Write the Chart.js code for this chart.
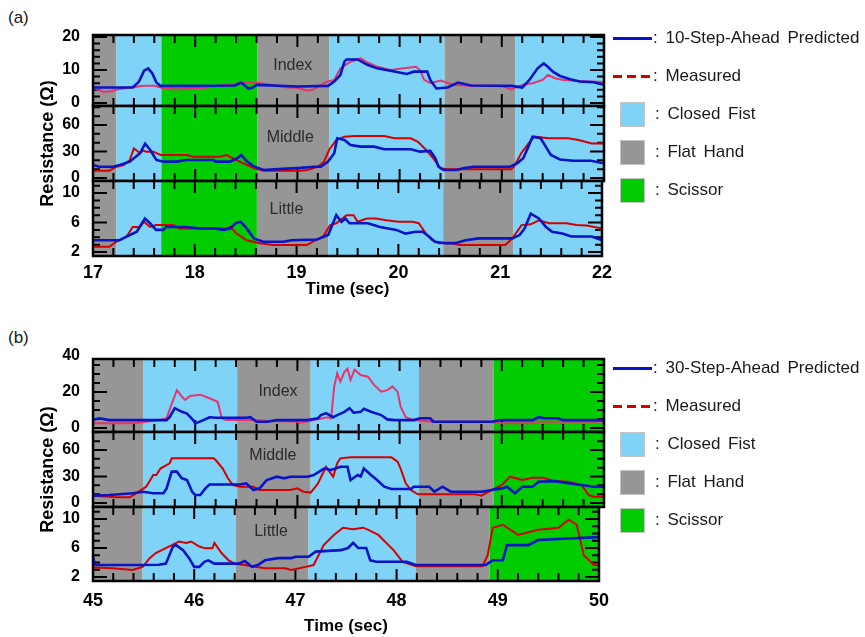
<!DOCTYPE html>
<html>
<head>
<meta charset="utf-8">
<script src="https://cdn.jsdelivr.net/npm/chart.js@4.4.0/dist/chart.umd.min.js"></script>
<style>
  body { margin: 0; width: 865px; height: 637px; background: #fff; position: relative; overflow: hidden;
         font-family: "Liberation Sans", Arial, sans-serif; color: #1a1a1a; }
  canvas { position: absolute; }
  .abs { position: absolute; white-space: nowrap; }
  .txt { font-size: 17px; line-height: 20px; word-spacing: 3px; }
</style>
</head>
<body>
<div class="abs" style="left:8px;top:8px;font-size:17px">(a)</div>
<div class="abs" style="left:8px;top:328px;font-size:17px">(b)</div>
<script>
// ---------- data : panel (a) 17-22 s ----------
const aXTicks = [17, 18, 19, 20, 21, 22];
const aBandEdges = [17, 17.23, 17.67, 18.61, 19.31, 20.44, 21.13, 22];
const aBandKinds = ['flat', 'fist', 'scissor', 'flat', 'fist', 'flat', 'fist'];

const aIndexPred = [[17,4.7],[17.39,4.7],[17.45,6.5],[17.5,9.8],[17.54,10.5],[17.58,9],[17.62,6.2],[17.66,5.2],[18.0,5.2],[18.39,5.3],[18.45,6.2],[18.49,5.2],[18.52,4.4],[18.56,4.6],[18.6,5.5],[19.0,5.0],[19.3,5.2],[19.36,6.5],[19.42,8.5],[19.46,12.5],[19.48,13.2],[19.59,13.2],[19.69,11.5],[19.78,10.5],[19.91,9.8],[20.07,8.8],[20.14,9.5],[20.27,9.5],[20.3,7],[20.36,4.4],[20.47,4.7],[20.57,6.2],[20.7,5.3],[21.1,5.2],[21.2,4.7],[21.27,7],[21.35,10.5],[21.41,12],[21.45,11],[21.5,9.5],[21.57,8.2],[21.67,7.2],[21.76,6.5],[21.9,6.3],[22,5.5]];
const aIndexMeas = [[17,4.7],[17.05,4.0],[17.1,3.4],[17.17,3.5],[17.25,4.2],[17.36,4.7],[17.5,5.2],[17.6,5.2],[17.7,4.4],[17.8,4.1],[17.9,4.3],[18.1,4.6],[18.3,5.5],[18.45,6.0],[18.55,6.3],[18.7,5.8],[18.9,4.7],[19.0,4.6],[19.1,3.7],[19.15,4.0],[19.23,5.5],[19.3,6.5],[19.36,7],[19.42,10.5],[19.52,12.5],[19.62,13.5],[19.69,12.2],[19.78,11],[19.91,10],[20.04,10.5],[20.16,11],[20.2,10],[20.24,7],[20.3,6],[20.4,6.8],[20.53,5.5],[20.66,5.2],[21.0,5.2],[21.09,4.1],[21.2,5.5],[21.3,6],[21.4,7],[21.45,8.5],[21.52,7.5],[21.6,7],[21.8,6.6],[22,6.4]];
const aMiddlePred = [[17,14.7],[17.06,12.8],[17.2,12.8],[17.26,14.7],[17.36,18.5],[17.46,28],[17.51,39],[17.56,31.7],[17.62,20.4],[17.69,18.5],[17.82,18.5],[17.92,20.4],[18.18,20.4],[18.2,18.5],[18.34,18.5],[18.41,22.3],[18.45,26],[18.51,18.5],[18.58,12.8],[18.67,9],[18.77,9.8],[19.03,11.5],[19.16,12.8],[19.23,12.8],[19.3,18.5],[19.36,28],[19.39,45],[19.46,43],[19.52,37.4],[19.62,35.5],[19.75,35.5],[19.85,32.5],[20.11,32.5],[20.2,29.8],[20.3,30.6],[20.35,22.3],[20.38,12.8],[20.43,9],[20.56,9],[20.62,11],[20.72,12.8],[21.08,12.8],[21.15,16.6],[21.21,22.3],[21.26,35.5],[21.3,46.8],[21.38,45],[21.43,35.5],[21.48,26],[21.57,21],[21.7,19.6],[21.87,19.6],[22,16.6]];
const aMiddleMeas = [[17,8.3],[17.16,8.3],[17.23,12.8],[17.3,14.7],[17.36,20.4],[17.4,33.6],[17.46,28],[17.49,31],[17.52,29.8],[17.59,29.8],[17.66,26],[17.92,26],[17.98,24],[18.24,24],[18.31,26],[18.37,22.3],[18.47,16.6],[18.58,11],[18.67,8.3],[19.03,8.3],[19.1,9],[19.2,12.8],[19.26,18.5],[19.31,31.7],[19.38,43],[19.46,46.8],[19.56,47.5],[19.85,47.5],[19.95,45],[20.11,45],[20.18,41],[20.26,31.7],[20.33,22.3],[20.4,11],[20.47,9.8],[21.09,9.8],[21.12,12.8],[21.19,28],[21.26,39],[21.32,46.8],[21.46,45],[21.65,45],[21.75,43],[21.88,39],[22,39]];
const aLittlePred = [[17,3.6],[17.26,3.6],[17.36,4.3],[17.43,4.75],[17.51,6.55],[17.56,5.9],[17.62,5],[17.69,5],[17.72,5.4],[17.92,5.4],[18.05,5.2],[18.2,5.2],[18.28,5],[18.35,5.2],[18.4,5.9],[18.45,6.1],[18.51,5.2],[18.58,3.85],[18.67,3.4],[18.87,3.4],[18.95,3.6],[19.2,3.7],[19.31,4.3],[19.39,7],[19.44,6.1],[19.48,6.55],[19.52,5.9],[19.7,5.9],[19.82,5.4],[19.98,5],[20.07,4.5],[20.17,4.75],[20.24,4.75],[20.3,4.1],[20.36,3.4],[20.47,3.2],[20.56,3.2],[20.66,3.6],[20.79,3.85],[21.12,3.85],[21.19,4.3],[21.24,5.2],[21.3,7.2],[21.38,6.55],[21.45,5.4],[21.51,4.75],[21.61,4.5],[21.7,4.1],[21.9,4.1],[22,3.6]];
const aLittleMeas = [[17,2.7],[17.16,2.7],[17.23,3.4],[17.33,4.1],[17.39,5.4],[17.46,5.4],[17.5,6.1],[17.56,5.4],[17.62,5.65],[17.79,5.65],[17.85,5.2],[18.31,5.2],[18.35,5.4],[18.41,4.5],[18.51,3.6],[18.64,3.2],[18.77,2.95],[19.1,2.95],[19.16,3.4],[19.26,4.1],[19.33,5.65],[19.39,5.9],[19.49,7],[19.56,7],[19.6,6.1],[19.69,6.55],[19.78,6.55],[19.88,6.3],[20.0,6.1],[20.14,6.1],[20.2,5.9],[20.27,4.5],[20.33,3.6],[20.4,3.2],[20.53,3.2],[20.6,2.95],[21.05,2.95],[21.12,3.85],[21.21,5.65],[21.3,5.75],[21.38,6.3],[21.48,5.9],[21.65,5.9],[21.75,5.65],[21.85,5.6],[22,5.2]];

// ---------- data : panel (b) 45-50 s ----------
const bXTicks = [45, 46, 47, 48, 49, 50];
const bBandEdges = [45, 45.49, 46.41, 47.13, 48.19, 48.92, 50];
const bBandKinds = ['flat', 'fist', 'flat', 'fist', 'flat', 'scissor'];

const bIndexPred = [[45,4.4],[45.06,5.4],[45.16,4.4],[45.72,4.4],[45.75,6],[45.8,11],[45.87,9],[45.92,8],[45.98,4.4],[46.0,2.6],[46.08,4.4],[46.14,6],[46.2,5.7],[46.5,5.7],[46.54,6],[46.6,3.5],[46.7,3.5],[46.8,4.4],[47.1,4.4],[47.2,5.4],[47.23,7.2],[47.28,8.3],[47.35,6],[47.39,7.2],[47.46,9],[47.51,11],[47.55,8.5],[47.62,9],[47.65,10.7],[47.72,9],[47.82,7.2],[47.88,4.8],[47.95,4.4],[48.14,4.4],[48.2,5.4],[48.3,5.4],[48.33,3.5],[48.9,3.5],[48.98,4.4],[49.3,4.4],[49.36,6],[49.42,5.4],[49.55,5.4],[49.6,4.4],[50,4.4]];
const bIndexMeas = [[45,2.6],[45.39,2.6],[45.52,3.5],[45.65,4.4],[45.72,5.4],[45.76,11.8],[45.82,21],[45.87,17.4],[45.9,15.6],[45.95,17.8],[46.05,18.5],[46.14,16.5],[46.22,14.6],[46.26,5.4],[46.3,4.4],[46.6,4.4],[46.7,4],[47.0,3.5],[47.03,3.0],[47.16,4.4],[47.3,6],[47.33,5.4],[47.36,23],[47.39,30.4],[47.42,25.8],[47.46,31],[47.49,33],[47.52,26.7],[47.56,32.4],[47.62,29.4],[47.69,28.5],[47.75,23.9],[47.82,20.2],[47.88,21],[47.93,23],[47.98,20.2],[48.01,11.8],[48.06,6],[48.14,4.4],[48.33,3.5],[48.86,3.5],[48.98,2.6],[49.3,2.6],[49.36,3.5],[49.6,3.5],[50,3.5]];
const bMiddlePred = [[45,8.3],[45.16,9],[45.39,11],[45.49,12.8],[45.59,11],[45.69,11],[45.72,16.6],[45.77,35.5],[45.82,35.5],[45.87,28],[45.92,26],[45.97,12.8],[46.0,9],[46.05,9],[46.1,16.6],[46.14,21],[46.44,21],[46.5,22.3],[46.57,14.7],[46.63,16.6],[46.7,26],[46.8,29.8],[46.87,28],[46.93,29.8],[47.1,29.8],[47.16,31.7],[47.26,39],[47.33,37.4],[47.42,41],[47.49,41],[47.52,26],[47.59,31.7],[47.62,30],[47.65,39],[47.72,31.7],[47.78,26],[47.85,18.5],[47.92,15.8],[48.11,15.8],[48.14,18.5],[48.29,18.5],[48.34,12.8],[48.42,18.5],[48.5,12.8],[48.8,12.8],[48.9,14.7],[49.0,16.6],[49.05,18.5],[49.13,11],[49.2,18.5],[49.3,18.5],[49.36,24],[49.52,24.8],[49.65,22.3],[49.78,20.4],[49.9,18.5],[50,18.5]];
const bMiddleMeas = [[45,8.3],[45.23,6.4],[45.36,6.4],[45.42,11],[45.52,18.5],[45.59,31.7],[45.62,31.7],[45.66,39],[45.75,45],[45.77,50.6],[46.18,50.6],[46.2,48.7],[46.27,39],[46.32,28],[46.37,20.4],[46.44,18.5],[46.57,18.5],[46.63,14.7],[46.93,14.7],[47.0,16.6],[47.06,12.8],[47.13,11.8],[47.2,22],[47.28,41],[47.35,29.8],[47.39,45],[47.42,50.6],[47.52,51.7],[47.92,51.7],[47.98,46.8],[48.01,39],[48.06,22.3],[48.11,14.7],[48.18,9.8],[48.74,9.8],[48.8,8.3],[48.9,14.7],[49.0,20.4],[49.08,29.8],[49.2,26],[49.3,28.7],[49.4,28.7],[49.52,24.8],[49.65,24],[49.78,20.4],[49.85,9],[49.9,7.2],[50,7.2]];
const bLittlePred = [[45,4.8],[45.02,3.65],[45.46,3.65],[45.65,3.7],[45.72,3.84],[45.79,6.2],[45.82,6.4],[45.89,5.7],[45.95,4.6],[46.0,3.4],[46.05,3.4],[46.1,4.1],[46.14,4.3],[46.2,3.84],[46.44,3.84],[46.5,4.2],[46.57,3.4],[46.63,3.65],[46.7,4.3],[46.83,4.6],[46.96,4.6],[47.0,4.8],[47.13,4.8],[47.2,5.5],[47.45,5.7],[47.52,6.0],[47.57,6.7],[47.62,6.0],[47.7,6.0],[47.74,4.3],[47.8,4.1],[48.1,4.1],[48.19,3.65],[48.88,3.65],[48.95,4.3],[49.05,4.3],[49.09,6.4],[49.3,6.4],[49.4,7.1],[49.7,7.3],[50,7.5]];
const bLittleMeas = [[45,3.3],[45.2,3.2],[45.39,2.96],[45.49,3.4],[45.56,4.6],[45.62,5.3],[45.75,6.2],[45.85,6.9],[45.92,6.7],[45.97,6.9],[46.05,6.2],[46.11,5.95],[46.18,5.95],[46.2,6.7],[46.27,5.3],[46.34,4.3],[46.4,3.84],[46.5,3.65],[46.6,3.4],[46.7,3.2],[46.9,3.2],[46.96,2.96],[47.1,3.4],[47.18,3.65],[47.28,6.4],[47.38,7.8],[47.47,8.8],[47.57,8.6],[47.67,8.8],[47.72,8.5],[47.82,7.8],[47.92,6.4],[47.97,5.7],[48.06,4.1],[48.19,3.5],[48.85,3.5],[48.9,5.0],[48.95,8.8],[49.05,9.2],[49.2,7.8],[49.4,8.5],[49.6,8.8],[49.7,9.9],[49.78,9.2],[49.85,5.0],[49.95,3.65],[50,3.65]];

// ---------- y tick labels ----------
const aIndexTicks = [0, 10, 20];
const bIndexTicks = [0, 20, 40];
const middleTicks = [0, 30, 60];
const littleTicks = [2, 6, 10];

// ---------- legend ----------
const aLegend = [': 10-Step-Ahead  Predicted', ': Measured', ': Closed  Fist', ': Flat  Hand', ': Scissor'];
const bLegend = [': 30-Step-Ahead  Predicted', ': Measured', ': Closed  Fist', ': Flat  Hand', ': Scissor'];

const BAND = { fist: '#7fd3f7', flat: '#969696', scissor: '#00cc00' };
const BLUE = '#0814c8', RED = '#d40000', PINK = '#e6336e';

Chart.defaults.font.family = '"Liberation Sans", Arial, sans-serif';

function panelPlugin(p) {
  return {
    id: 'panel',
    beforeDatasetsDraw(chart) {
      const { ctx, chartArea: a, scales: { x, y } } = chart;
      ctx.save();
      for (let i = 0; i < p.kinds.length; i++) {
        const x0 = x.getPixelForValue(p.edges[i]);
        const x1 = x.getPixelForValue(p.edges[i + 1]);
        ctx.fillStyle = BAND[p.kinds[i]];
        ctx.fillRect(x0, a.top, x1 - x0, a.bottom - a.top);
      }
      ctx.fillStyle = '#2a2a2a';
      ctx.font = '16px "Liberation Sans", Arial, sans-serif';
      ctx.textAlign = 'center';
      ctx.textBaseline = 'middle';
      ctx.fillText(p.name, x.getPixelForValue(p.namePos[0]), y.getPixelForValue(p.namePos[1]));

      ctx.strokeStyle = '#000';
      ctx.lineWidth = 2;
      ctx.beginPath();
      const n = Math.round((x.max - x.min) / 0.2);
      for (let k = 1; k < n; k++) {
        const v = x.min + k * 0.2;
        const px = x.getPixelForValue(v);
        const len = Math.abs(v - Math.round(v)) < 1e-6 ? 12 : 8;
        ctx.moveTo(px, a.top); ctx.lineTo(px, a.top + len);
        ctx.moveTo(px, a.bottom); ctx.lineTo(px, a.bottom - len);
      }
      const start = Math.ceil(y.min / p.minor) * p.minor;
      for (let v = start; v < y.max + 1e-6; v += p.minor) {
        const py = y.getPixelForValue(v);
        const major = p.yTicks.some(t => Math.abs(t - v) < 1e-6);
        const len = major ? 14 : 7;
        ctx.moveTo(a.left, py); ctx.lineTo(a.left + len, py);
        ctx.moveTo(a.right, py); ctx.lineTo(a.right - len, py);
      }
      ctx.stroke();
      ctx.restore();
    },
    afterDatasetsDraw(chart) {
      const { ctx, chartArea: a } = chart;
      ctx.save();
      ctx.strokeStyle = '#000';
      ctx.lineWidth = 2.5;
      ctx.strokeRect(a.left, a.top, a.right - a.left, a.bottom - a.top);
      ctx.restore();
    }
  };
}

function addSub(p) {
  // generous padding (larger than the y tick label overflow) keeps each plot area exact;
  // the canvases overlap but are transparent outside what they draw
  const padTop = 40;
  const padBot = p.xAxis ? 0 : 40;
  const cv = document.createElement('canvas');
  cv.width = 585;
  cv.height = p.bottom - p.top + padTop + (p.xAxis ? p.xAxis.h : padBot);
  cv.style.left = '33px';
  cv.style.top = (p.top - padTop) + 'px';
  document.body.appendChild(cv);

  new Chart(cv, {
    type: 'line',
    data: {
      datasets: [
        { data: p.pred, borderColor: BLUE, borderWidth: 2.6, pointRadius: 0, order: 0 },
        { data: p.meas, borderColor: p.measColor, borderWidth: 2, pointRadius: 0, order: 1 }
      ]
    },
    options: {
      responsive: false,
      animation: false,
      events: [],
      layout: { autoPadding: false, padding: { top: padTop, bottom: padBot, left: 0, right: 14 } },
      plugins: { legend: { display: false }, tooltip: { enabled: false } },
      scales: {
        x: {
          type: 'linear', min: p.xMin, max: p.xMax, display: !!p.xAxis,
          grid: { display: false, drawTicks: false }, border: { display: false },
          afterBuildTicks: s => { if (p.xAxis) s.ticks = p.xAxis.ticks.map(v => ({ value: v })); },
          afterFit: s => { if (p.xAxis) s.height = p.xAxis.h; },
          ticks: { font: { size: 18, weight: 'bold' }, color: '#000', padding: p.xAxis ? p.xAxis.pad : 0, autoSkip: false, maxRotation: 0 },
          title: { display: true, text: 'Time (sec)', color: '#000', font: { size: 17, weight: 'bold' }, padding: { top: 0, bottom: 4 } }
        },
        y: {
          type: 'linear', min: p.yMin, max: p.yMax,
          grid: { display: false, drawTicks: false }, border: { display: false },
          afterBuildTicks: s => { s.ticks = p.yTicks.map(v => ({ value: v })); },
          afterFit: s => { s.width = 60; },
          ticks: { font: { size: 16, weight: 'bold' }, color: '#000', padding: 13, autoSkip: false },
          title: { display: !!p.yTitle, text: 'Resistance (Ω)', color: '#000', font: { size: 18, weight: 'bold' } }
        }
      }
    },
    plugins: [panelPlugin(p)]
  });
}

const aCommon = { xMin: 17, xMax: 22, edges: aBandEdges, kinds: aBandKinds };
const bCommon = { xMin: 45, xMax: 50, edges: bBandEdges, kinds: bBandKinds };

addSub({ ...aCommon, top: 35, bottom: 106, yMin: -0.9, yMax: 20.6, yTicks: aIndexTicks, minor: 2,
  pred: aIndexPred, meas: aIndexMeas, measColor: PINK, name: 'Index', namePos: [18.955, 11.2] });
addSub({ ...aCommon, top: 106, bottom: 181, yMin: -3.4, yMax: 81.5, yTicks: middleTicks, minor: 10,
  pred: aMiddlePred, meas: aMiddleMeas, measColor: RED, name: 'Middle', namePos: [18.93, 45.3], yTitle: true });
addSub({ ...aCommon, top: 181, bottom: 256, yMin: 1.46, yMax: 11.63, yTicks: littleTicks, minor: 1,
  pred: aLittlePred, meas: aLittleMeas, measColor: RED, name: 'Little', namePos: [18.9, 7.7],
  xAxis: { ticks: aXTicks, pad: 6, h: 48 } });

addSub({ ...bCommon, top: 359, bottom: 432, yMin: -2.2, yMax: 38.3, yTicks: bIndexTicks, minor: 5,
  pred: bIndexPred, meas: bIndexMeas, measColor: PINK, name: 'Index', namePos: [46.81, 20] });
addSub({ ...bCommon, top: 432, bottom: 507, yMin: -4.5, yMax: 80.4, yTicks: middleTicks, minor: 10,
  pred: bMiddlePred, meas: bMiddleMeas, measColor: RED, name: 'Middle', namePos: [46.76, 53.2], yTitle: true });
addSub({ ...bCommon, top: 507, bottom: 581, yMin: 1.45, yMax: 11.65, yTicks: littleTicks, minor: 1,
  pred: bLittlePred, meas: bLittleMeas, measColor: RED, name: 'Little', namePos: [46.76, 8.3],
  xAxis: { ticks: bXTicks, pad: 9, h: 60 } });

// legend (HTML)
function addLegend(labels, top) {
  const rows = [0, 38, 76, 114, 152];
  const keys = ['pred', 'meas', 'fist', 'flat', 'scissor'];
  keys.forEach((k, i) => {
    const cy = top + rows[i];
    const el = document.createElement('div');
    el.className = 'abs';
    if (k === 'pred') {
      el.style.cssText = `left:613px;top:${cy - 1.5}px;width:39px;height:3px;background:${BLUE}`;
    } else if (k === 'meas') {
      el.style.cssText = `left:613px;top:${cy - 1.5}px;width:39px;height:3px;` +
        `background:repeating-linear-gradient(90deg,${RED} 0 9px,transparent 9px 14px)`;
    } else {
      el.style.cssText = `left:620px;top:${cy - 12}px;width:23px;height:23px;border:1px solid #c4c4c4;background:${BAND[k]}`;
    }
    document.body.appendChild(el);
    const t = document.createElement('div');
    t.className = 'abs txt';
    t.style.left = (i < 2 ? 653 : 655) + 'px';
    t.style.top = (cy - 10) + 'px';
    t.textContent = labels[i];
    document.body.appendChild(t);
  });
}
addLegend(aLegend, 38);
addLegend(bLegend, 368);
</script>
</body>
</html>
